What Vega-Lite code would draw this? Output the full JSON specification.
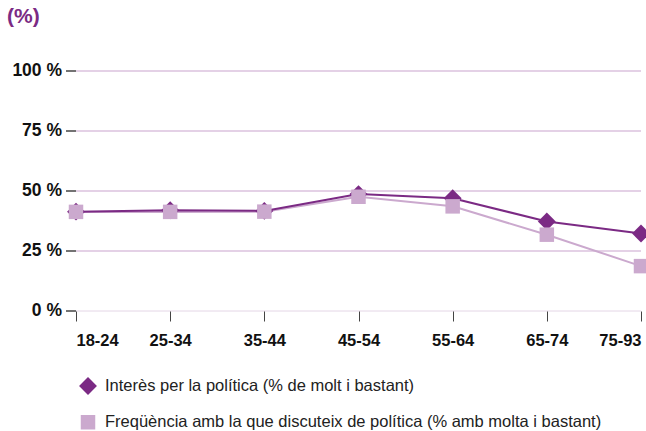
{
  "$schema": "https://vega.github.io/schema/vega-lite/v6.json",
  "autosize": "none",
  "width": 565,
  "height": 240,
  "padding": {"left": 76, "top": 71, "right": 5, "bottom": 120},
  "background": "white",
  "config": {
    "view": {"stroke": null},
    "font": "Liberation Sans"
  },
  "data": {
    "values": [
      {"serie": "Interès per la política (% de molt i bastant)", "edat": "18-24", "valor": 41.4},
      {"serie": "Interès per la política (% de molt i bastant)", "edat": "25-34", "valor": 42.0},
      {"serie": "Interès per la política (% de molt i bastant)", "edat": "35-44", "valor": 41.7},
      {"serie": "Interès per la política (% de molt i bastant)", "edat": "45-54", "valor": 48.7},
      {"serie": "Interès per la política (% de molt i bastant)", "edat": "55-64", "valor": 47.0},
      {"serie": "Interès per la política (% de molt i bastant)", "edat": "65-74", "valor": 37.3},
      {"serie": "Interès per la política (% de molt i bastant)", "edat": "75-93", "valor": 32.3},
      {"serie": "Freqüència amb la que discuteix de política (% amb molta i bastant)", "edat": "18-24", "valor": 41.3},
      {"serie": "Freqüència amb la que discuteix de política (% amb molta i bastant)", "edat": "25-34", "valor": 41.3},
      {"serie": "Freqüència amb la que discuteix de política (% amb molta i bastant)", "edat": "35-44", "valor": 41.4},
      {"serie": "Freqüència amb la que discuteix de política (% amb molta i bastant)", "edat": "45-54", "valor": 47.6},
      {"serie": "Freqüència amb la que discuteix de política (% amb molta i bastant)", "edat": "55-64", "valor": 43.6},
      {"serie": "Freqüència amb la que discuteix de política (% amb molta i bastant)", "edat": "65-74", "valor": 31.8},
      {"serie": "Freqüència amb la que discuteix de política (% amb molta i bastant)", "edat": "75-93", "valor": 18.7}
    ]
  },
  "encoding": {
    "x": {
      "field": "edat", "type": "ordinal",
      "scale": {"type": "point", "padding": 0},
      "axis": {
        "title": null, "labelAngle": 0, "domain": false, "grid": false,
        "tickSize": 10, "tickColor": "#444", "tickWidth": 1,
        "labelPadding": 11, "labelFlush": true,
        "labelFont": "Liberation Sans", "labelFontSize": 16.5, "labelFontWeight": "bold", "labelColor": "#111"
      }
    },
    "y": {
      "field": "valor", "type": "quantitative",
      "scale": {"domain": [0, 100], "nice": false},
      "axis": {
        "title": "(%)", "titleAngle": 0, "titleX": -69, "titleY": -54,
        "titleAlign": "left", "titleBaseline": "middle",
        "titleFont": "Liberation Sans", "titleFontSize": 21, "titleFontWeight": "bold", "titleColor": "#7b2a84",
        "values": [0, 25, 50, 75, 100],
        "labelExpr": "datum.value + ' %'",
        "domain": false,
        "translate": 0,
        "tickSize": 10, "tickColor": "#444", "tickWidth": 1.5,
        "labelPadding": 4,
        "labelFont": "Liberation Sans", "labelFontSize": 17.5, "labelFontWeight": "bold", "labelColor": "#111",
        "grid": true,
        "gridColor": {"expr": "datum.value === 0 ? '#e4d6e6' : '#c9a3cd'"},
        "gridOpacity": 1,
        "gridWidth": 1
      }
    }
  },
  "layer": [
    {
      "transform": [{"filter": "datum.serie === 'Freqüència amb la que discuteix de política (% amb molta i bastant)'"}],
      "mark": {"type": "line", "color": "#cba9ce", "strokeWidth": 2}
    },
    {
      "transform": [{"filter": "datum.serie === 'Interès per la política (% de molt i bastant)'"}],
      "mark": {"type": "line", "color": "#7b2a84", "strokeWidth": 2}
    },
    {
      "mark": {"type": "point", "filled": true, "opacity": 1},
      "encoding": {
        "color": {
          "field": "serie", "type": "nominal",
          "scale": {
            "domain": ["Interès per la política (% de molt i bastant)", "Freqüència amb la que discuteix de política (% amb molta i bastant)"],
            "range": ["#7b2a84", "#cba9ce"]
          },
          "legend": {
            "title": null, "orient": "none", "legendX": 3, "legendY": 306,
            "direction": "vertical",
            "symbolSize": 440, "symbolOpacity": 1, "symbolStrokeWidth": 0,
            "rowPadding": 19, "labelOffset": 8,
            "labelFont": "Liberation Sans", "labelFontSize": 16.5, "labelColor": "#222", "labelLimit": 650
          }
        },
        "shape": {
          "field": "serie", "type": "nominal",
          "scale": {
            "domain": ["Interès per la política (% de molt i bastant)", "Freqüència amb la que discuteix de política (% amb molta i bastant)"],
            "range": ["diamond", "square"]
          }
        },
        "size": {
          "field": "serie", "type": "nominal", "legend": null,
          "scale": {
            "domain": ["Interès per la política (% de molt i bastant)", "Freqüència amb la que discuteix de política (% amb molta i bastant)"],
            "range": [320, 210]
          }
        }
      }
    }
  ]
}
